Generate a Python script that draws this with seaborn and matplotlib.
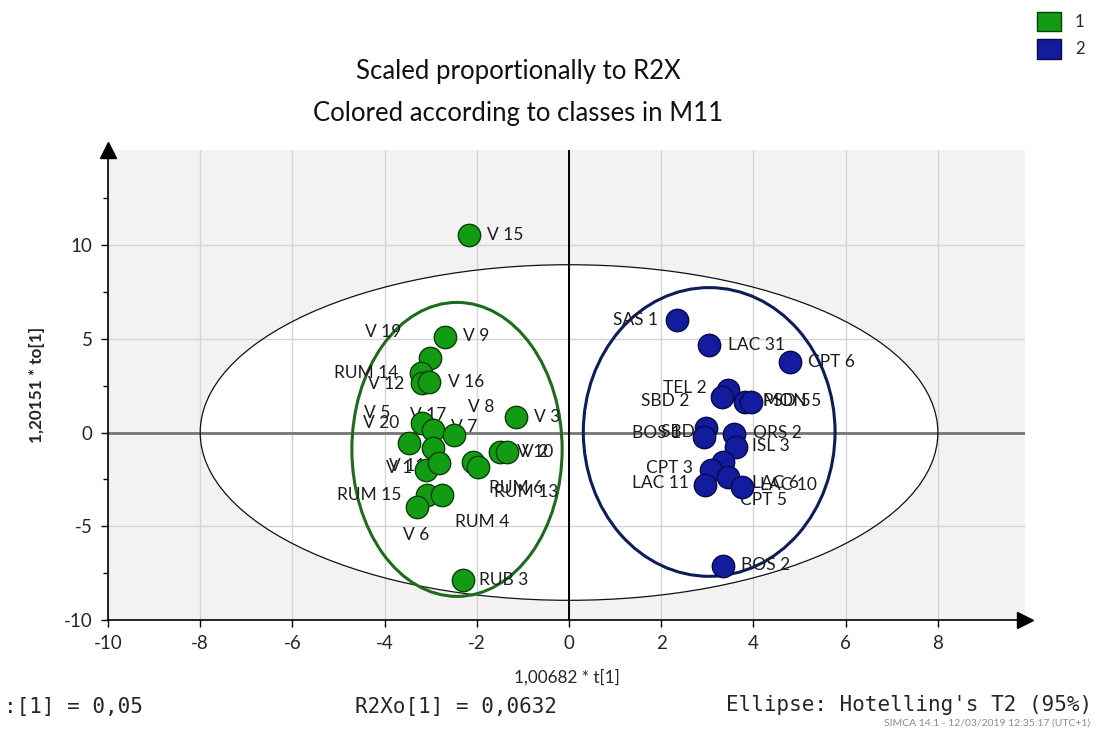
import matplotlib
matplotlib.use("Agg")
import matplotlib.pyplot as plt
from matplotlib.patches import Ellipse, Patch
import seaborn as sns
import pandas as pd

# ---------------- data ----------------
green_names = ["V 15", "V 9", "V 19", "RUM 14", "V 12", "V 16", "V 3", "V 5", "V 20",
               "V 17", "V 7", "V 8", "V 1", "V 11", "V 10", "V 2", "RUM 6", "RUM 13",
               "RUM 15", "RUM 4", "V 6", "RUB 3"]
green_t = [-2.18, -2.68, -3.01, -3.22, -3.18, -3.03, -1.16, -3.48, -3.18,
           -2.94, -2.50, -2.96, -3.11, -2.83, -1.49, -1.34, -2.09, -1.98,
           -3.08, -2.75, -3.29, -2.31]
green_to = [10.55, 5.07, 3.95, 3.15, 2.63, 2.69, 0.83, -0.56, 0.51,
            0.13, -0.13, -0.83, -2.00, -1.63, -1.04, -1.04, -1.57, -1.84,
            -3.33, -3.33, -3.97, -7.87]

blue_names = ["SAS 1", "LAC 31", "CPT 6", "TEL 2", "SBD 2", "MON 5", "PSD 5", "BOS 1",
              "SBD 1", "ORS 2", "ISL 3", "CPT 5", "CPT 3", "LAC 6", "LAC 11", "LAC 10", "BOS 2"]
blue_t = [2.35, 3.03, 4.80, 3.44, 3.31, 3.81, 3.94, 2.98,
          2.92, 3.57, 3.63, 3.35, 3.07, 3.44, 2.94, 3.76, 3.33]
blue_to = [6.00, 4.67, 3.76, 2.27, 1.89, 1.63, 1.63, 0.24,
           -0.24, -0.08, -0.77, -1.57, -2.00, -2.37, -2.80, -2.91, -7.12]

classes = ["1", "2"]

# Hotelling T2 (95%) ellipse semi-axes and class ellipses (center_t, center_to, semi_t, semi_to)
t2_semi = [8.0, 8.95]
class_ellipses = {"1": [-2.43, -0.90, 2.28, 7.84], "2": [3.04, 0.03, 2.73, 7.70]}

x_ticks = [-10, -8, -6, -4, -2, 0, 2, 4, 6, 8]
y_ticks = [-10, -5, 0, 5, 10]

# ---------------- label placement (pixel offsets from point, alignment) ----------------
green_lbl = [(18, 0, "left"), (18, -1, "left"), (-65, -26, "left"), (-87, 0, "left"),
             (-54, 1, "left"), (19, 0, "left"), (18, 0, "left"), (-45, -30, "left"),
             (-59, 0, "left"), (-23, -15, "left"), (-3, -8, "left"), (35, -41, "left"),
             (-40, -2, "left"), (-50, 3, "left"), (17, 0, "left"), (15, 0, "left"),
             (16, 26, "left"), (16, 25, "left"), (-90, 0, "left"), (13, 27, "left"),
             (-14, 28, "left"), (16, 0, "left")]
blue_lbl = [(-19, 0, "right"), (19, 0, "left"), (18, 0, "left"), (-21, -2, "right"),
            (-81, 4, "left"), (18, -1, "left"), (12, -1, "left"), (-74, 5, "left"),
            (-43, -5, "left"), (19, -1, "left"), (16, -1, "left"), (17, 38, "left"),
            (-18, -2, "right"), (24, 6, "left"), (-16, -2, "right"), (18, -2, "left"),
            (18, -1, "left")]

df = pd.DataFrame({
    "name": green_names + blue_names,
    "t": green_t + blue_t,
    "to": green_to + blue_to,
    "cls": ["1"] * len(green_names) + ["2"] * len(blue_names),
})

fill = {"1": "#139c13", "2": "#121c9c"}
edge = {"1": "#064006", "2": "#060a4a"}
ell_col = {"1": "#1d6b1d", "2": "#0d1d5a"}

sns.set_style("white")
plt.rcParams["font.family"] = ["Lato", "DejaVu Sans"]

W, H = 1096, 733
fig = plt.figure(figsize=(W / 100, H / 100), dpi=100)
ax = fig.add_axes([108 / W, 113 / H, (1025 - 108) / W, (620 - 150) / H])
ax.set_facecolor("#f2f2f2")
ax.set_xlim(-10, 9.89)
ax.set_ylim(-10, 15.07)
ax.set_axisbelow(True)

# grid
ax.set_xticks(x_ticks)
ax.set_yticks(y_ticks)
ax.set_yticks([-7.5, -2.5, 2.5, 7.5, 12.5], minor=True)
ax.grid(True, which="major", color="#d4d4d4", lw=1)

# Hotelling ellipse with white interior
ax.add_patch(Ellipse((0, 0), 2 * t2_semi[0], 2 * t2_semi[1], facecolor="white",
                     edgecolor="none", zorder=0.2))
ax.add_patch(Ellipse((0, 0), 2 * t2_semi[0], 2 * t2_semi[1], facecolor="none",
                     edgecolor="#111111", lw=0.9, zorder=1.5))

# zero lines
ax.axhline(0, color="#767676", lw=2, zorder=1.2)
ax.axvline(0, color="black", lw=1.4, zorder=1.2)

# class ellipses
for c in classes:
    cx, cy, sx, sy = class_ellipses[c]
    ax.add_patch(Ellipse((cx, cy), 2 * sx, 2 * sy, facecolor="none",
                         edgecolor=ell_col[c], lw=2.2, zorder=1.6))

# points
for c in classes:
    sub = df[df["cls"] == c]
    sns.scatterplot(data=sub, x="t", y="to", color=fill[c], edgecolor=edge[c],
                    linewidth=1.0, s=260, ax=ax, legend=False, zorder=3)

# labels
for names, xs, ys, offs in [(green_names, green_t, green_to, green_lbl),
                            (blue_names, blue_t, blue_to, blue_lbl)]:
    for n, x, y, (dx, dy, ha) in zip(names, xs, ys, offs):
        ax.annotate(n, (x, y), xytext=(dx * 0.72, -dy * 0.72), textcoords="offset points",
                    ha=ha, va="center", fontsize=12.5, color="#1c1c1c", zorder=2)

# spines / axes
for s in ["top", "right"]:
    ax.spines[s].set_visible(False)
for s in ["left", "bottom"]:
    ax.spines[s].set_color("black")
    ax.spines[s].set_linewidth(1.2)
ax.plot([0], [1], marker="^", color="black", ms=11, transform=ax.transAxes, clip_on=False)
ax.plot([1], [0], marker=">", color="black", ms=11, transform=ax.transAxes, clip_on=False)
ax.tick_params(axis="both", which="both", direction="out", color="black", length=5,
               width=1, labelsize=13.5, bottom=True, left=True, pad=6)
ax.tick_params(axis="y", which="minor", length=3.5)
ax.set_xticklabels([str(v) for v in x_ticks])
ax.set_yticklabels([str(v) for v in y_ticks])

ax.set_xlabel("1,00682 * t[1]", fontsize=12.3, labelpad=12)
ax.set_ylabel("1,20151 * to[1]", fontsize=12.3, labelpad=14, weight="bold")

# titles
fig.text(518 / W, 1 - 72 / H, "Scaled proportionally to R2X", ha="center", va="center",
         fontsize=18.5, color="#111111")
fig.text(518 / W, 1 - 113 / H, "Colored according to classes in M11", ha="center",
         va="center", fontsize=18.5, color="#111111")

# bottom statistics
mono = ["DejaVu Sans Mono"]
fig.text(4 / W, 1 - 707 / H, ":[1] = 0,05", family=mono, fontsize=15, va="center")
fig.text(355 / W, 1 - 707 / H, "R2Xo[1] = 0,0632", family=mono, fontsize=15, va="center")
fig.text(1092 / W, 1 - 705 / H, "Ellipse: Hotelling's T2 (95%)", family=mono, fontsize=15,
         va="center", ha="right")
fig.text(1090 / W, 1 - 723 / H, "SIMCA 14.1 - 12/03/2019 12:35:17 (UTC+1)", fontsize=7.5,
         color="#8a8a8a", va="center", ha="right")

# legend
handles = [Patch(facecolor=fill[c], edgecolor=edge[c], label=c) for c in classes]
fig.legend(handles=handles, loc="upper right", bbox_to_anchor=(1.0, 1.0), frameon=False,
           handlelength=1.45, handleheight=1.45, fontsize=12, labelspacing=0.45,
           handletextpad=0.8, borderaxespad=0.3)

fig.savefig("out.png", dpi=100)
